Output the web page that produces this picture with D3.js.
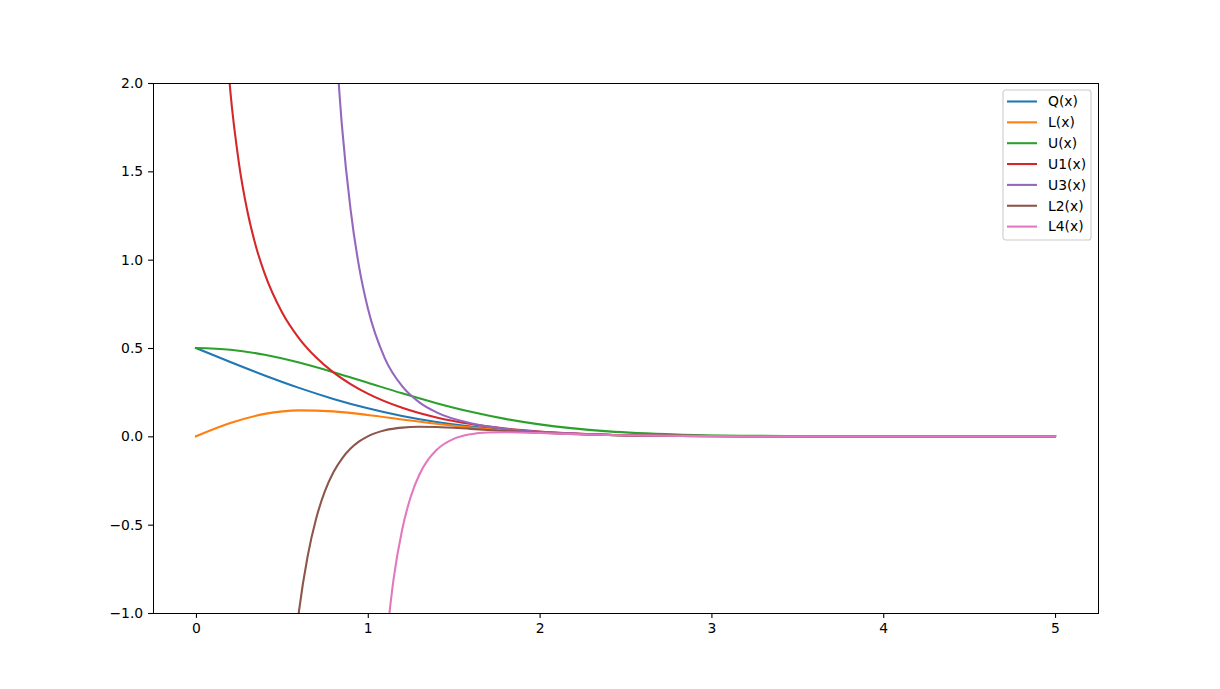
<!DOCTYPE html>
<html>
<head>
<meta charset="utf-8">
<script src="https://cdn.jsdelivr.net/npm/d3@7"></script>
<style>
  body { margin: 0; background: #fff; }
  text { font-family: "DejaVu Sans", sans-serif; font-size: 13.9px; fill: #000; }
</style>
</head>
<body>
<div id="chart"></div>
<script>
// values
var xTicks = [0, 1, 2, 3, 4, 5];
var yTicks = [-1.0, -0.5, 0.0, 0.5, 1.0, 1.5, 2.0];

var gridX = [0, 0.2, 0.4, 0.6, 0.8, 1.0, 1.2, 1.4, 1.6, 1.8, 2.0, 2.4, 2.8, 3.2, 3.6, 4.0, 4.5, 5.0];
var qVals = [0.5, 0.4207, 0.3446, 0.2743, 0.2119, 0.1587, 0.1151, 0.0808, 0.0548, 0.0359, 0.0228, 0.0082, 0.0026, 0.0007, 0.0002, 0.00003, 0.000003, 0.0000003];
var lVals = [0, 0.0752, 0.1270, 0.1470, 0.1413, 0.1210, 0.0955, 0.0708, 0.0499, 0.0335, 0.0216, 0.0080, 0.0025, 0.0007, 0.0002, 0.00003, 0.000003, 0.0000003];
var uVals = [0.5, 0.4901, 0.4616, 0.4176, 0.3631, 0.3033, 0.2434, 0.1877, 0.1390, 0.0989, 0.0677, 0.0281, 0.0099, 0.0030, 0.0008, 0.0002, 0.00002, 0.000005];

var u1X = [0.15, 0.2, 0.25, 0.3, 0.35, 0.4, 0.5, 0.6, 0.7, 0.8, 0.9, 1.0, 1.2, 1.4, 1.6, 1.8, 2.0, 2.4, 2.8, 3.2, 3.6, 4.0, 4.5, 5.0];
var u1Vals = [2.630, 1.955, 1.547, 1.271, 1.072, 0.921, 0.704, 0.555, 0.446, 0.362, 0.296, 0.242, 0.1618, 0.1069, 0.0693, 0.0439, 0.0270, 0.0093, 0.0028, 0.0007, 0.0002, 0.00003, 0.000004, 0.0000003];

var u3X = [0.8, 0.85, 0.9, 0.95, 1.0, 1.1, 1.2, 1.3, 1.4, 1.6, 1.8, 2.0, 2.4, 2.8, 3.2, 3.6, 4.0, 4.5, 5.0];
var u3Vals = [2.449, 1.754, 1.283, 0.956, 0.726, 0.440, 0.2836, 0.1923, 0.1359, 0.0740, 0.0429, 0.0253, 0.0086, 0.0026, 0.0007, 0.0002, 0.00003, 0.000003, 0.0000003];

var l2X = [0.55, 0.6, 0.65, 0.7, 0.75, 0.8, 0.85, 0.9, 0.95, 1.0, 1.1, 1.2, 1.3, 1.4, 1.6, 1.8, 2.0, 2.4, 2.8, 3.2, 3.6, 4.0, 4.5, 5.0];
var l2Vals = [-1.438, -0.987, -0.679, -0.464, -0.312, -0.2037, -0.1256, -0.0694, -0.0289, 0, 0.0344, 0.0494, 0.0538, 0.0524, 0.0422, 0.0303, 0.0202, 0.0077, 0.0025, 0.0007, 0.0002, 0.00003, 0.000003, 0.0000003];

var l4X = [1.1, 1.15, 1.2, 1.25, 1.3, 1.35, 1.4, 1.5, 1.6, 1.7, 1.8, 2.0, 2.2, 2.4, 2.8, 3.2, 3.6, 4.0, 4.5, 5.0];
var l4Vals = [-1.237, -0.810, -0.529, -0.342, -0.2174, -0.1335, -0.0772, -0.0146, 0.0120, 0.0217, 0.0235, 0.0190, 0.0127, 0.0078, 0.0025, 0.0007, 0.0002, 0.00003, 0.000003, 0.0000003];

var seriesNames = ["Q(x)", "L(x)", "U(x)", "U1(x)", "U3(x)", "L2(x)", "L4(x)"];
var seriesColors = ["#1f77b4", "#ff7f0e", "#2ca02c", "#d62728", "#9467bd", "#8c564b", "#e377c2"];

var series = [
  { xs: gridX, ys: qVals },
  { xs: gridX, ys: lVals },
  { xs: gridX, ys: uVals },
  { xs: u1X, ys: u1Vals },
  { xs: u3X, ys: u3Vals },
  { xs: l2X, ys: l2Vals },
  { xs: l4X, ys: l4Vals }
];

var W = 1220, H = 689;
var margin = { top: 83, right: 122, bottom: 76, left: 153 },
    width = W - margin.left - margin.right,
    height = H - margin.top - margin.bottom;

var x = d3.scaleLinear().domain([-0.25, 5.25]).range([0, width]);
var y = d3.scaleLinear().domain([-1, 2]).range([height, 0]);

var svg = d3.select("#chart").append("svg")
    .attr("width", W)
    .attr("height", H);

var g = svg.append("g")
    .attr("transform", "translate(" + margin.left + "," + margin.top + ")");

g.append("clipPath").attr("id", "clip")
  .append("rect").attr("width", width).attr("height", height);

var line = d3.line()
    .x(function (d) { return x(d[0]); })
    .y(function (d) { return y(d[1]); })
    .curve(d3.curveMonotoneX);

series.forEach(function (s, i) {
  var pts = s.xs.map(function (v, j) { return [v, s.ys[j]]; });
  g.append("path")
    .attr("clip-path", "url(#clip)")
    .attr("d", line(pts))
    .attr("fill", "none")
    .attr("stroke", seriesColors[i])
    .attr("stroke-width", 2.08)
    .attr("stroke-linecap", "square");
});

// axes
var fmtY = function (d) { return d3.format(".1f")(d).replace("-", "\u2212"); };

var xAxis = g.append("g")
    .attr("transform", "translate(0," + height + ")")
    .call(d3.axisBottom(x).tickValues(xTicks).tickFormat(d3.format("d")).tickSize(4.9).tickPadding(4.9));
var yAxis = g.append("g")
    .call(d3.axisLeft(y).tickValues(yTicks).tickFormat(fmtY).tickSize(4.9).tickPadding(4.9));

[xAxis, yAxis].forEach(function (a) {
  a.select(".domain").remove();
  a.selectAll("line").attr("stroke", "#000").attr("stroke-width", 1.1);
  a.selectAll("text").attr("font-family", "DejaVu Sans").attr("font-size", 13.9).attr("fill", "#000");
});

g.append("rect")
    .attr("x", 0.5).attr("y", 0.5)
    .attr("width", width).attr("height", height)
    .attr("fill", "none").attr("stroke", "#000").attr("stroke-width", 1.1)
    .attr("shape-rendering", "crispEdges");

// legend
var leg = g.append("g").attr("transform", "translate(" + (width - 95) + ",7)");
leg.append("rect")
    .attr("width", 88).attr("height", 150)
    .attr("rx", 2.8)
    .attr("fill", "#fff").attr("fill-opacity", 0.8)
    .attr("stroke", "#ccc").attr("stroke-width", 1.1);

seriesNames.forEach(function (name, i) {
  var row = leg.append("g").attr("transform", "translate(0," + (11.5 + i * 20.85) + ")");
  row.append("line")
    .attr("x1", 4).attr("x2", 34)
    .attr("stroke", seriesColors[i]).attr("stroke-width", 2.08);
  row.append("text")
    .attr("x", 45).attr("dy", "0.35em")
    .text(name);
});
</script>
</body>
</html>
